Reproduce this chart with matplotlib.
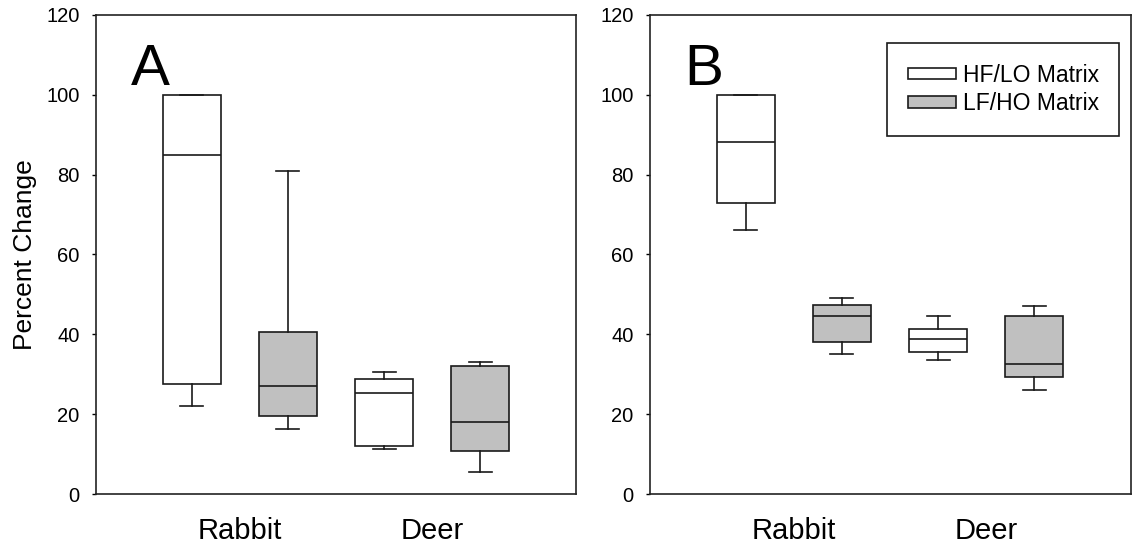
#!/usr/bin/env python3
"""
Percent change box plots for rabbit and deer, HF/LO vs LF/HO matrix (panels A and B)
"""

import matplotlib
matplotlib.use("Agg")
import matplotlib.pyplot as plt
from matplotlib.patches import Patch

plt.rcParams['font.family'] = ['Liberation Sans', 'DejaVu Sans']

# Box order in each panel: Rabbit HF/LO, Rabbit LF/HO, Deer HF/LO, Deer LF/HO
groups = ['Rabbit', 'Deer']
matrix_labels = ['HF/LO Matrix', 'LF/HO Matrix']

# Panel A
a_whislo = [22.0, 16.4, 11.3, 5.5]
a_q1 = [27.5, 19.5, 12.2, 10.9]
a_med = [84.9, 27.2, 25.3, 18.2]
a_q3 = [100.0, 40.6, 28.8, 32.2]
a_whishi = [100.0, 80.9, 30.5, 33.2]

# Panel B
b_whislo = [66.2, 35.1, 33.6, 26.2]
b_q1 = [72.9, 38.0, 35.5, 29.3]
b_med = [88.1, 44.6, 38.9, 32.6]
b_q3 = [100.0, 47.4, 41.4, 44.6]
b_whishi = [100.0, 49.2, 44.7, 47.0]

fill_colors = ['white', '#c0c0c0']


def make_stats(whislo, q1, med, q3, whishi):
    return [dict(whislo=lo, q1=a, med=m, q3=b, whishi=hi, fliers=[])
            for lo, a, m, b, hi in zip(whislo, q1, med, q3, whishi)]


def draw_panel(ax, stats, letter):
    line = dict(color='#1a1a1a', linewidth=1.2)
    res = ax.bxp(stats, positions=[1, 2, 3, 4], widths=0.6, capwidths=0.24,
                 patch_artist=True, showfliers=False,
                 boxprops=dict(edgecolor='#1a1a1a', linewidth=1.2),
                 medianprops=line, whiskerprops=line, capprops=line)
    for i, box in enumerate(res['boxes']):
        box.set_facecolor(fill_colors[i % 2])

    ax.set_xlim(0, 5)
    ax.set_ylim(0, 120)
    ax.set_yticks(range(0, 121, 20))
    ax.set_xticks([1.5, 3.5])
    ax.set_xticklabels(groups, fontsize=21)
    ax.tick_params(axis='x', length=0, pad=16)
    ax.tick_params(axis='y', direction='out', length=3, width=1, pad=8.5,
                   labelsize=14.5)
    for sp in ax.spines.values():
        sp.set_linewidth(1.2)
        sp.set_color('#222222')

    ax.text(0.073, 0.853, letter, transform=ax.transAxes, fontsize=42,
            ha='left', va='baseline')


fig = plt.figure(figsize=(11.33, 5.48), dpi=100)
ax_a = fig.add_axes([0.0843, 0.098, 0.4245, 0.8752])
ax_b = fig.add_axes([0.5733, 0.098, 0.4245, 0.8752])

draw_panel(ax_a, make_stats(a_whislo, a_q1, a_med, a_q3, a_whishi), 'A')
draw_panel(ax_b, make_stats(b_whislo, b_q1, b_med, b_q3, b_whishi), 'B')

ax_a.set_ylabel('Percent Change', fontsize=19)
ax_a.yaxis.set_label_coords(-0.122, 0.5)

handles = [Patch(facecolor=c, edgecolor='#1a1a1a', linewidth=1.2) for c in fill_colors]
leg = ax_b.legend(handles, matrix_labels, loc='upper right',
                  bbox_to_anchor=(0.9767, 0.9404), borderaxespad=0,
                  fontsize=16.5, handlelength=2.1, handleheight=0.4,
                  handletextpad=0.3, borderpad=0.9, labelspacing=0.22,
                  fancybox=False, framealpha=1)
leg.get_frame().set_edgecolor('#1a1a1a')
leg.get_frame().set_linewidth(1.2)

fig.savefig('out.png', dpi=100)
plt.close(fig)
